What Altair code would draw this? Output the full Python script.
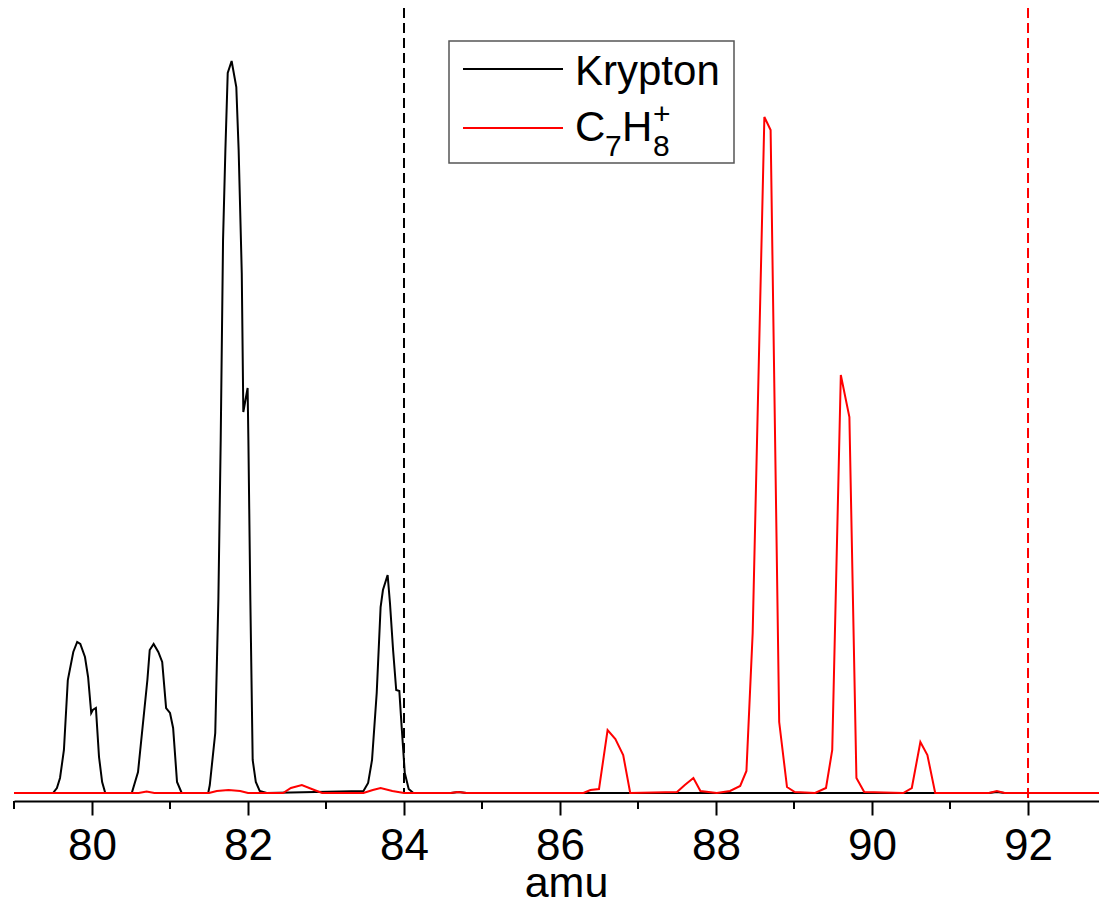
import altair as alt
import pandas as pd

# ---------------- data ----------------
kr_amu = [79.00, 79.50, 79.55, 79.59, 79.64, 79.69, 79.76, 79.81, 79.85, 79.91, 79.95, 79.99, 80.01,
          80.05, 80.09, 80.13, 80.17,
          80.51, 80.59, 80.71, 80.74, 80.79, 80.85, 80.90, 80.95, 81.00, 81.04, 81.09, 81.15,
          81.49, 81.51, 81.58, 81.62, 81.65, 81.68, 81.71, 81.74, 81.79, 81.85, 81.88, 81.92,
          81.94, 81.995, 82.005, 82.03, 82.06, 82.10, 82.15, 82.24,
          83.48, 83.54, 83.59, 83.65, 83.70, 83.73, 83.79, 83.82, 83.86, 83.90, 83.94, 83.97,
          84.01, 84.06, 84.12, 84.60, 84.70, 84.80, 91.50, 91.60, 91.70, 92.91]
kr_sig = [0, 0, 5, 15, 43, 113, 141, 151, 149, 136, 116, 80, 83,
          85, 36, 11, 0,
          0, 21, 113, 143, 149, 141, 131, 85, 80, 65, 11, 0,
          0, 8, 60, 193, 353, 553, 643, 720, 732, 706, 643, 520,
          381, 405, 353, 193, 33, 11, 2, 0,
          2, 10, 33, 100, 186, 203, 218, 190, 143, 103, 102, 66,
          20, 4, 0, 0, 1, 0, 0, 1, 0, 0]

c7_amu = [79.00, 80.60, 80.70, 80.80, 81.50, 81.60, 81.75, 81.90, 82.00,
          82.45, 82.55, 82.69, 82.85, 82.95, 83.48, 83.60, 83.70, 83.85, 84.00,
          84.60, 84.69, 84.80,
          86.30, 86.39, 86.50, 86.61, 86.71, 86.81, 86.90,
          87.50, 87.60, 87.71, 87.80, 88.01,
          88.18, 88.31, 88.39, 88.47, 88.62, 88.70, 88.81, 88.91, 89.01,
          89.27, 89.41, 89.49, 89.60, 89.71, 89.80, 89.90,
          90.40, 90.51, 90.62, 90.71, 90.81,
          91.50, 91.60, 91.70, 92.91]
c7_sig = [0, 0, 1.5, 0, 0, 2, 3, 2, 0,
          0, 5, 8, 3, 0, 0, 3, 5, 2, 0,
          0, 1, 0,
          0, 3, 4, 63, 54, 38, 0,
          1, 8, 15, 2, 0,
          2, 7, 22, 160, 676, 663, 71, 6, 1,
          0, 5, 43, 418, 376, 15, 1,
          0, 5, 51, 38, 0,
          0, 2, 0, 0]

major_ticks = [80, 82, 84, 86, 88, 90, 92]
minor_ticks = [79, 81, 83, 85, 87, 89, 91]

marker_amu = [84, 92]
marker_top = [785, 785]
marker_bottom = [0, -8]
marker_color = ["#000000", "#ff0000"]

series_names = ["Krypton", "C7H8+"]

FONT = "Liberation Sans"

# ---------------- tables ----------------
df_kr = pd.DataFrame({"amu": kr_amu, "signal": kr_sig})
df_c7 = pd.DataFrame({"amu": c7_amu, "signal": c7_sig})
df_minor = pd.DataFrame({"amu": minor_ticks})
df_mark = pd.DataFrame({"amu": marker_amu, "top": marker_top, "bottom": marker_bottom,
                        "col": marker_color})
one = pd.DataFrame({"k": [0]})

xs = alt.Scale(domain=[79, 92.91], nice=False, zero=False)
ys = alt.Scale(domain=[-8, 793], nice=False, zero=False)

xaxis = alt.Axis(values=major_ticks, format="d", grid=False,
                 domainColor="black", domainWidth=2,
                 tickColor="black", tickWidth=2, tickSize=14,
                 labelFont=FONT, labelFontSize=44, labelColor="black", labelPadding=9,
                 labelFlush=False, labelOverlap=False,
                 titleFont=FONT, titleFontSize=43, titleFontWeight="normal", titleColor="black",
                 titleBaseline="alphabetic", titleY=95, titleX=552)


def X(field):
    return alt.X(field, type="quantitative", scale=xs, axis=xaxis, title="amu")


kr_line = alt.Chart(df_kr).mark_line(color="#000000", strokeWidth=2).encode(
    x=X("amu"), y=alt.Y("signal:Q", scale=ys, axis=None))
c7_line = alt.Chart(df_c7).mark_line(color="#ff0000", strokeWidth=2).encode(
    x=X("amu"), y=alt.Y("signal:Q", scale=ys, axis=None))

minor = alt.Chart(df_minor).mark_rule(color="black", strokeWidth=2).encode(
    x=X("amu"), y=alt.value(801), y2=alt.value(809))

markers = alt.Chart(df_mark).mark_rule(strokeWidth=2, strokeDash=[10, 5]).encode(
    x=X("amu"),
    y=alt.Y("top:Q", scale=ys, axis=None),
    y2="bottom:Q",
    color=alt.Color("col:N", scale=None))

# ---------------- legend (drawn by hand for sub/superscripts) ----------------
L = 14  # plot-area left offset in the page
box = alt.Chart(one).mark_rect(fill="white", stroke="#555555", strokeWidth=1.5).encode(
    x=alt.value(449 - L), x2=alt.value(734 - L), y=alt.value(41), y2=alt.value(163))
leg_k = alt.Chart(one).mark_rule(color="#000000", strokeWidth=2).encode(
    x=alt.value(463 - L), x2=alt.value(563 - L), y=alt.value(69))
leg_c = alt.Chart(one).mark_rule(color="#ff0000", strokeWidth=2).encode(
    x=alt.value(463 - L), x2=alt.value(563 - L), y=alt.value(128))


def txt(s, x, y, size):
    return alt.Chart(one).mark_text(font=FONT, fontSize=size, color="black",
                                    align="left", baseline="alphabetic").encode(
        x=alt.value(x - L), y=alt.value(y), text=alt.value(s))


legend_texts = [
    txt(series_names[0], 575, 85, 42),
    txt("C", 575, 141, 42),
    txt("7", 605, 156, 30),
    txt("H", 622, 141, 42),
    txt("8", 653, 156, 30),
    txt("+", 653, 124, 30),
]

chart = alt.layer(markers, kr_line, c7_line, minor, box, leg_k, leg_c, *legend_texts).properties(
    width=1085, height=801,
    padding={"left": 14, "top": 0, "right": 0, "bottom": 104},
    autosize=alt.AutoSizeParams(type="none"),
    background="white",
).configure_view(stroke=None)

chart.save("out.html", embed_options={"renderer": "svg", "actions": False})
